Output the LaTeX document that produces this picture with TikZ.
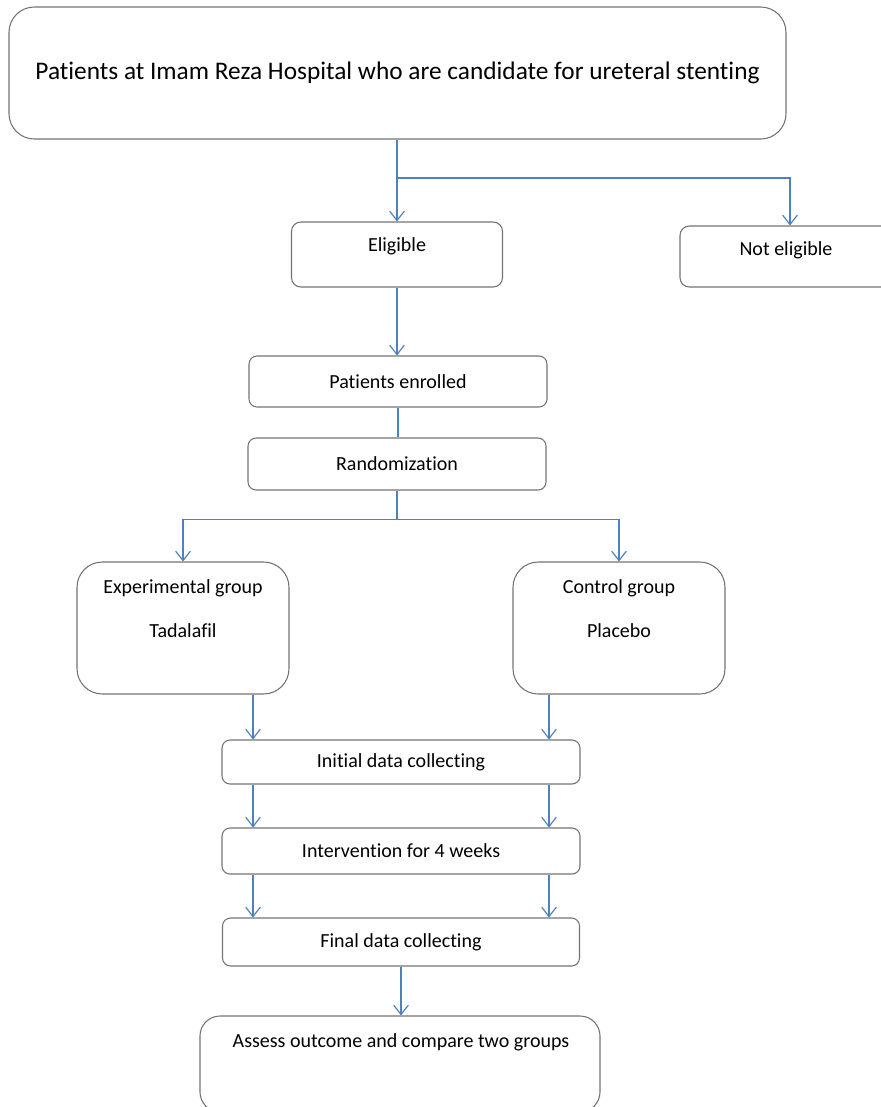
\documentclass[tikz,border=0pt]{standalone}
\usepackage{fontspec}
\setmainfont{Carlito}[Ligatures=NoCommon]
\usetikzlibrary{arrows.meta}
\definecolor{flowblue}{HTML}{4F81BD}
\newcommand{\pxu}{0.75pt}

\begin{document}
\begin{tikzpicture}[x=0.75pt,y=-0.75pt,
	  every node/.append style={font=\fontsize{15}{18}\selectfont},
	  arr/.style={draw=flowblue,line width=1.2pt,-{Straight Barb[length=7pt,width=11pt,line width=0.9pt]}},
	  link/.style={draw=flowblue,line width=1.2pt}]
	  \tikzstyle{box} = [draw=black!55,line width=0.8pt,rounded corners=7pt,inner sep=0pt]
	  \tikzstyle{word} = [color=black,inner sep=1pt]
	  \useasboundingbox (0,0) rectangle (881,1107);
	  \node (top) [box,rounded corners=19pt,minimum width=777*\pxu,minimum height=132*\pxu,font=\fontsize{19}{23}\selectfont] at (397.5,73) {Patients at Imam Reza Hospital who are candidate for ureteral stenting};
	  \node (eligible) [box,minimum width=211*\pxu,minimum height=65*\pxu] at (397,254.5) {};
	  \node (eligtext) [word] at (397,246) {Eligible};
	  \node (noteligible) [box,minimum width=220*\pxu,minimum height=61*\pxu] at (790,256.5) {};
	  \node (notetext) [word] at (786,250) {Not eligible};
	  \node (enrolled) [box,rounded corners=6pt,minimum width=298*\pxu,minimum height=51*\pxu] at (398,381.5) {Patients enrolled};
	  \node (rand) [box,rounded corners=6pt,minimum width=298*\pxu,minimum height=52*\pxu] at (397,464) {Randomization};
	  \node (exp) [box,rounded corners=19pt,minimum width=212*\pxu,minimum height=132*\pxu] at (183,628) {};
	  \node (exphead) [word] at (183,588) {Experimental group};
	  \node (exptext) [word] at (183,631) {Tadalafil};
	  \node (ctrl) [box,rounded corners=19pt,minimum width=212*\pxu,minimum height=132*\pxu] at (619,628) {};
	  \node (ctrlhead) [word] at (619,588) {Control group};
	  \node (ctrltext) [word] at (619,631) {Placebo};
	  \node (initial) [box,rounded corners=6pt,minimum width=358*\pxu,minimum height=44*\pxu] at (401,762) {Initial data collecting};
	  \node (interv) [box,rounded corners=6pt,minimum width=358*\pxu,minimum height=46*\pxu] at (401,851) {Intervention for 4 weeks};
	  \node (final) [box,rounded corners=6pt,minimum width=357*\pxu,minimum height=48*\pxu] at (401,942) {Final data collecting};
	  \node (assess) [box,rounded corners=15pt,minimum width=400*\pxu,minimum height=96*\pxu] at (400,1064) {};
	  \node (assesstext) [word] at (401,1042) {Assess outcome and compare two groups};
	  \coordinate (split) at (397,178);
	  \coordinate (lcol) at (253,0);
	  \coordinate (rcol) at (549,0);
	  \draw[arr] (eligible.north |- top.south) -- (eligible.north);
	  \draw[arr] (split) -| (noteligible.north);
	  \draw[arr] (eligible.south) -- (enrolled.north -| eligible.south);
	  \draw[link] (enrolled.south) -- (rand.north -| enrolled.south);
	  \draw[link] (rand.south) -- ++(0,29) coordinate (fork);
	  \draw[arr] (fork) -| (exp.north);
	  \draw[arr] (fork) -| (ctrl.north);
	  \draw[arr] (exp.south -| lcol) -- (initial.north -| lcol);
	  \draw[arr] (ctrl.south -| rcol) -- (initial.north -| rcol);
	  \draw[arr] (initial.south -| lcol) -- (interv.north -| lcol);
	  \draw[arr] (initial.south -| rcol) -- (interv.north -| rcol);
	  \draw[arr] (interv.south -| lcol) -- (final.north -| lcol);
	  \draw[arr] (interv.south -| rcol) -- (final.north -| rcol);
	  \draw[arr] (final.south) -- (assess.north -| final.south);
	\end{tikzpicture}
\end{document}
